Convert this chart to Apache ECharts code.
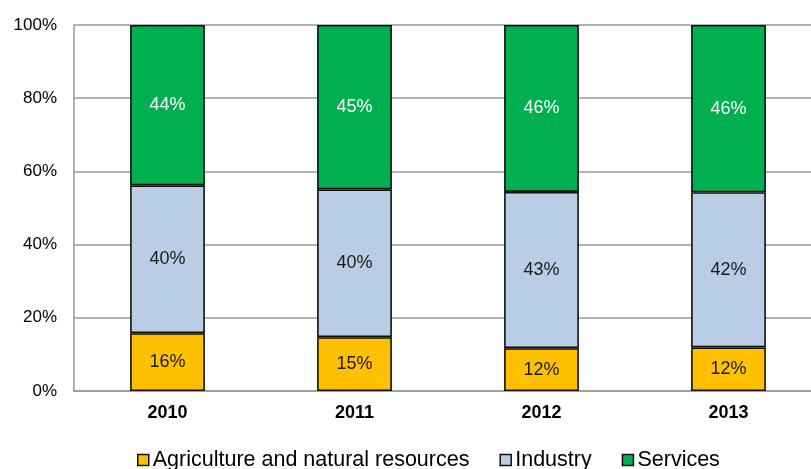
<!DOCTYPE html>
<html>
<head>
<meta charset="utf-8">
<script src="https://cdn.jsdelivr.net/npm/echarts@6/dist/echarts.min.js"></script>
<style>html,body{margin:0;padding:0;background:#fff;}#c{width:811px;height:469px;}</style>
</head>
<body>
<div id="c"></div>
<script>
var years = ['2010', '2011', '2012', '2013'];
var agriculture = [15.8, 14.7, 11.7, 11.9];
var industry = [40.4, 40.4, 42.7, 42.4];
var services = [43.8, 44.9, 45.6, 45.7];
var yTicks = [0, 20, 40, 60, 80, 100];

var chart = echarts.init(document.getElementById('c'));
var font = '"Liberation Sans", Arial, sans-serif';
function mk(name, data, color, labelColor) {
  return {
    name: name, type: 'bar', stack: 'total', data: data, barWidth: '40%',
    itemStyle: { color: color, borderColor: '#111', borderWidth: 1.6 },
    label: { show: true, position: 'inside', color: labelColor, fontFamily: font, fontSize: 18,
      formatter: function (p) { return Math.round(p.value) + '%'; } }
  };
}
chart.setOption({
  animation: false,
  textStyle: { fontFamily: font },
  grid: { left: 74, top: 25, width: 748, height: 366, outerBoundsMode: 'none', containLabel: false },
  legend: {
    bottom: -2, left: 137, padding: 0, itemWidth: 11, itemHeight: 11, itemGap: 30,
    icon: 'rect',
    itemStyle: { borderColor: '#111', borderWidth: 1.5 },
    textStyle: { fontFamily: font, fontSize: 21.5, color: '#000', padding: [0, 0, 0, -1] },
    data: ['Agriculture and natural resources', 'Industry', 'Services']
  },
  xAxis: {
    type: 'category', data: years,
    axisLine: { lineStyle: { color: '#999', width: 1.5 } },
    axisTick: { show: false },
    axisLabel: { color: '#000', fontWeight: 'bold', fontSize: 18, fontFamily: font, margin: 13 }
  },
  yAxis: {
    type: 'value', min: 0, max: 100, interval: 20,
    axisLine: { show: true, lineStyle: { color: '#999', width: 1.5 } },
    axisTick: { show: false },
    splitLine: { lineStyle: { color: '#999', width: 1.5 } },
    axisLabel: { color: '#000', fontSize: 17, fontFamily: font, margin: 17,
      formatter: function (v) { return yTicks.indexOf(v) >= 0 ? v + '%' : ''; } }
  },
  series: [
    mk('Agriculture and natural resources', agriculture, '#FFC000', '#1a1a1a'),
    mk('Industry', industry, '#B9CDE5', '#1a1a1a'),
    mk('Services', services, '#00B050', '#ffffff')
  ]
});
</script>
</body>
</html>
